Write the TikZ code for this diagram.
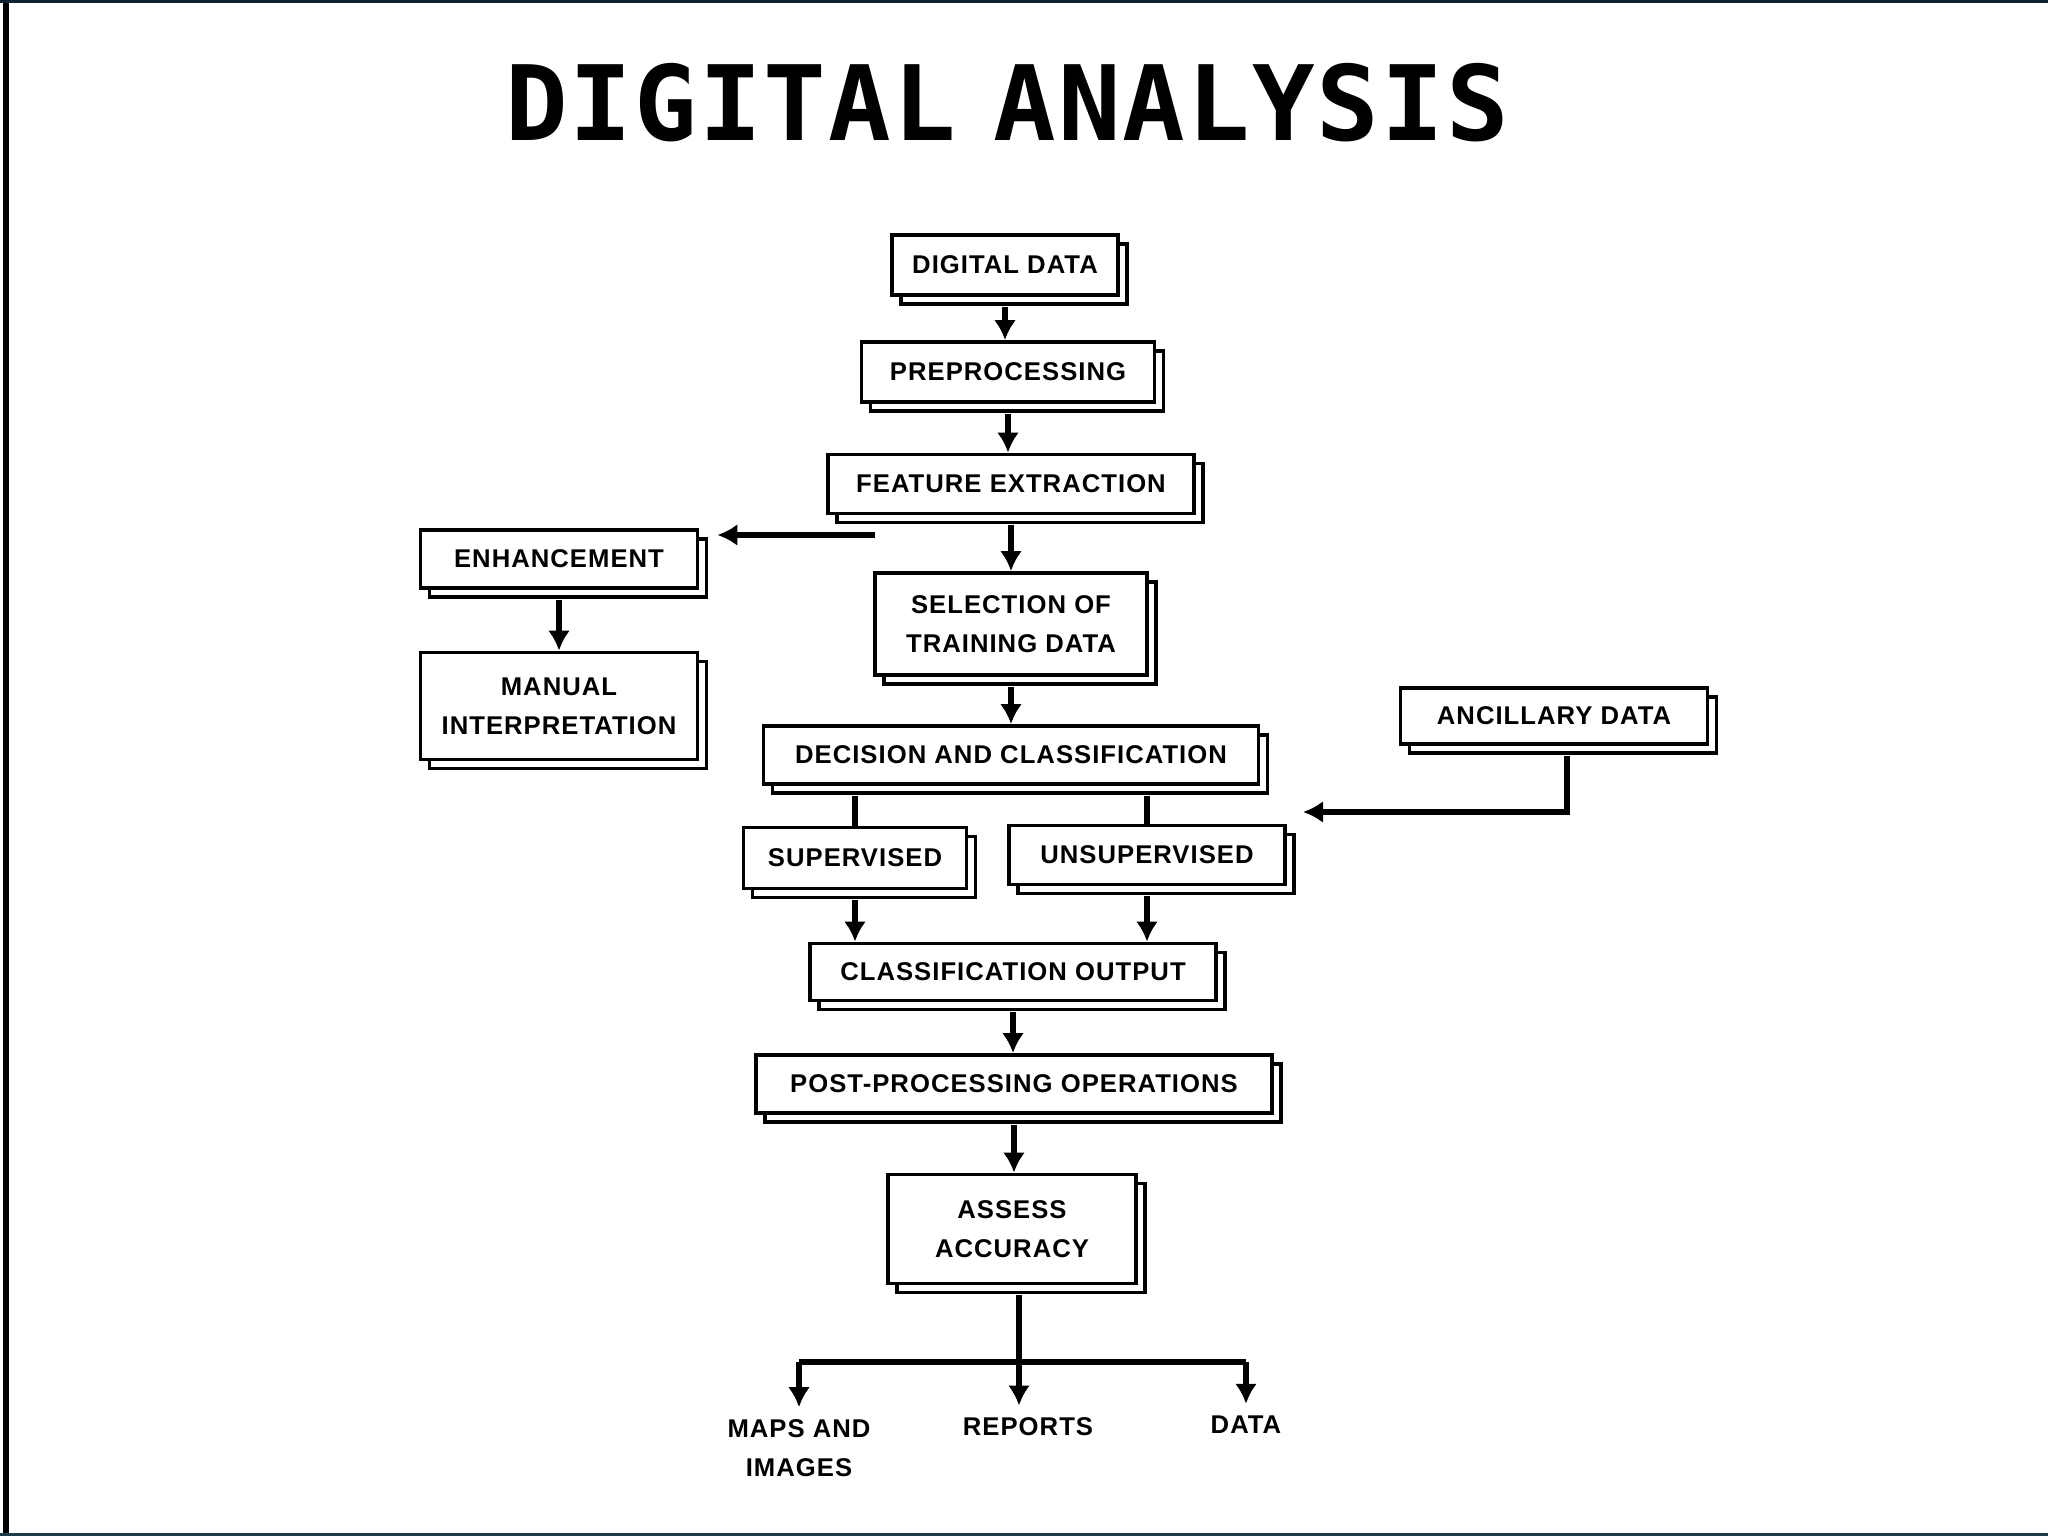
\documentclass[tikz,border=0pt]{standalone}
\usepackage{fontspec}
\setmainfont{Liberation Sans}
\newfontfamily\boxfont[LetterSpace=4]{Liberation Sans}
\newfontfamily\headfont[LetterSpace=2]{DejaVu Sans Mono}
\usetikzlibrary{arrows.meta,shadows}
\definecolor{rimblue}{RGB}{16,34,48}
\definecolor{rimteal}{RGB}{30,62,72}

\begin{document}
\begin{tikzpicture}[>={Latex[length=2mm,width=2.2mm]},
  box/.style={draw, line width=1.1pt, fill=white, inner sep=0pt, align=center,
    font=\boxfont\bfseries\fontsize{7.3}{9}\selectfont,
    copy shadow={shadow xshift=0.9mm, shadow yshift=-0.9mm, fill=white, draw, line width=1.1pt}},
  link/.style={line width=1.5pt},
  outlabel/.style={font=\boxfont\bfseries\fontsize{7.3}{9}\selectfont, align=center}]
  \useasboundingbox (0,0) rectangle (20.48,-15.36);
  % frame of the slide
  \fill[black] (0.03,0) rectangle (0.085,-15.36);
  \fill[rimblue] (0,0) rectangle (20.48,-0.03);
  \fill[rimteal] (0,-15.33) rectangle (20.48,-15.36);

  \node[font=\headfont\bfseries\fontsize{29.6}{32}\selectfont, inner sep=0pt] (title) at (10.07,-1.03) {DIGITAL\hspace{0.36em}ANALYSIS};

  % main column
  \node[box, minimum width=2.26cm, minimum height=0.60cm] (dd) at (10.05,-2.65) {DIGITAL DATA};
  \node[box, minimum width=2.93cm, minimum height=0.60cm] (pre) at (10.08,-3.72) {PREPROCESSING};
  \node[box, minimum width=3.66cm, minimum height=0.59cm] (fe) at (10.11,-4.84) {FEATURE EXTRACTION};
  \node[box, minimum width=2.72cm, minimum height=1.02cm] (sel) at (10.11,-6.24) {SELECTION OF\\[2pt]TRAINING DATA};
  \node[box, minimum width=4.95cm, minimum height=0.58cm] (dec) at (10.11,-7.55) {DECISION AND CLASSIFICATION};
  \node[box, minimum width=2.23cm, minimum height=0.61cm] (sup) at (8.55,-8.58) {SUPERVISED};
  \node[box, minimum width=2.76cm, minimum height=0.59cm] (uns) at (11.47,-8.55) {UNSUPERVISED};
  \node[box, minimum width=4.06cm, minimum height=0.57cm] (co) at (10.13,-9.72) {CLASSIFICATION OUTPUT};
  \node[box, minimum width=5.16cm, minimum height=0.58cm] (post) at (10.14,-10.84) {POST-PROCESSING OPERATIONS};
  \node[box, minimum width=2.48cm, minimum height=1.09cm] (acc) at (10.12,-12.29) {ASSESS\\[2pt]ACCURACY};

  % side boxes
  \node[box, minimum width=2.77cm, minimum height=0.58cm] (enh) at (5.59,-5.59) {ENHANCEMENT};
  \node[box, minimum width=2.77cm, minimum height=1.07cm] (man) at (5.59,-7.06) {MANUAL\\[2pt]INTERPRETATION};
  \node[box, minimum width=3.07cm, minimum height=0.56cm] (anc) at (15.54,-7.16) {ANCILLARY DATA};

  % products
  \node[outlabel] (maps) at (7.99,-14.48) {MAPS AND\\[2pt]IMAGES};
  \node[outlabel] (rep) at (10.28,-14.27) {REPORTS};
  \node[outlabel] (dat) at (12.46,-14.25) {DATA};

  \coordinate (fork) at (8.75,-5.35);
  \coordinate (ancend) at (13.03,-8.12);
  \coordinate (split) at (10.19,-13.62);

  \draw[link, ->, shorten <=1mm] (dd) -- (dd |- pre.north);
  \draw[link, ->, shorten <=1mm] (pre) -- (pre |- fe.north);
  \draw[link, ->, shorten <=1mm] (fe) -- (fe |- sel.north);
  \draw[link, ->, shorten <=1mm] (sel) -- (sel |- dec.north);
  \draw[link, ->, shorten >=1.8mm] (fork) -- (fork -| enh.east);
  \draw[link, ->, shorten <=1mm] (enh) -- (man);
  \draw[link, shorten <=1mm] (dec.south -| sup.north) -- (sup.north);
  \draw[link, shorten <=1mm] (dec.south -| uns.north) -- (uns.north);
  \draw[link, ->, shorten <=1mm] ([xshift=1.3mm]anc.south) |- (ancend);
  \draw[link, ->, shorten <=1mm] (sup.south) -- (sup.south |- co.north);
  \draw[link, ->, shorten <=1mm] (uns.south) -- (uns.south |- co.north);
  \draw[link, ->, shorten <=1mm] (co) -- (co |- post.north);
  \draw[link, ->, shorten <=1mm] (post) -- (post |- acc.north);
  \draw[link, shorten <=1mm] (split |- acc.south) -- (split);
  \draw[link] (split -| maps) -- (split -| dat);
  \draw[link, ->] (split -| maps) -- (maps);
  \draw[link, ->] (split) -- (split |- rep.north);
  \draw[link, ->] (split -| dat) -- (dat);
\end{tikzpicture}
\end{document}
